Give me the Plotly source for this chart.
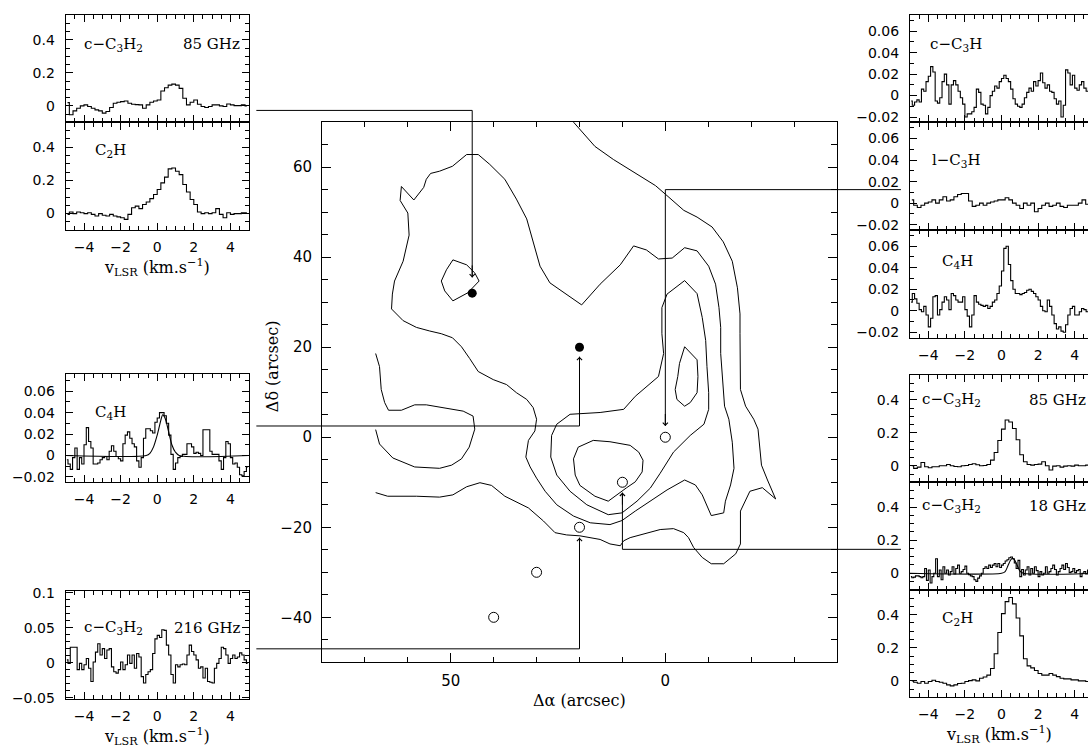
import numpy as np
import plotly.graph_objects as go

W, H = 1088, 751

# ---------------- map data (offsets in arcsec) ----------------
filled_ra = [45, 20]
filled_dec = [32, 20]
open_ra = [0, 10, 20, 30, 40]
open_dec = [0, -10, -20, -30, -40]

outer_ra = [21.4, 16.4, 12.1, 6.6, 2.3, 0.0, -4.3, -7.4, -10.9, -13.5, -15.6, -16.8, -17.4, -17.4, -17.5,
            -17.5, -18.7, -20.6, -21.6, -22.0, -22.4, -23.8, -25.7, -22.6, -19.7, -17.5, -17.4, -17.5, -16.4,
            -13.6, -10.7, -8.6, -6.6, -5.4, -4.3, -1.9, 1.2, 5.1, 8.2, 9.7, 10.5, 12.9, 15.2, 19.9, 23.0, 25.7,
            28.4, 31.9, 37.4, 40.5, 43.2, 46.3, 49.5, 52.6, 58.0, 64.7, 67.5]
outer_dec = [70.0, 64.6, 61.7, 58.4, 55.9, 54.0, 50.4, 48.9, 46.7, 43.4, 39.1, 33.2, 27.4, 23.0, 15.7,
             10.6, 6.9, 4.0, 1.8, -2.6, -6.2, -9.5, -13.7, -11.2, -12.0, -16.4, -20.8, -23.7, -25.9,
             -28.1, -28.1, -26.7, -24.5, -22.3, -21.2, -20.3, -20.5, -21.6, -22.3, -23.0, -24.1, -23.7, -22.7,
             -21.9, -21.7, -21.2, -18.6, -15.7, -13.1, -10.7, -10.1, -11.0, -12.8, -13.3, -13.1, -13.1, -12.3]

vshape_ra = [61.5, 58.6, 56.3, 55.7, 54.7, 52.6, 49.6, 46.3, 43.6, 40.9, 37.4, 34.7, 32.3, 30.8, 29.2,
             26.9, 23.0, 19.5, 15.2, 10.5, 7.4, 4.4, 1.6, -1.6, -4.5, -7.4, -10.1, -11.7, -12.5, -12.9,
             -12.9, -13.3, -13.8, -14.8, -15.6, -16.0, -15.2, -14.0, -13.6, -10.7, -8.6, -7.0, -4.5, -0.4,
             3.1, 7.0, 10.1, 12.9, 17.5, 21.4, 25.3, 28.0, 30.0, 31.5, 32.5, 31.9, 30.4, 30.0, 30.8, 32.3,
             34.7, 37.0, 40.1, 43.6, 45.6, 47.5, 49.6, 52.2, 54.9, 58.0, 61.1, 63.8, 63.6, 63.1, 61.1, 59.7,
             60.0, 61.8, 61.5]
vshape_dec = [55.7, 52.7, 55.5, 57.3, 58.6, 59.1, 60.2, 62.8, 62.8, 60.6, 57.3, 52.9, 48.5, 43.4, 38.0,
              34.3, 31.8, 29.4, 34.0, 38.3, 42.5, 41.6, 39.6, 39.8, 42.1, 41.4, 38.0, 34.0, 28.8, 24.4,
              18.6, 12.8, 6.9, 4.0, -1.1, -6.9, -10.6, -14.2, -16.8, -17.4, -12.8, -10.6, -9.5, -11.7,
              -13.9, -16.4, -18.5, -19.4, -19.0, -17.5, -15.0, -12.0, -9.1, -6.6, -4.4, -0.7, 1.4, 4.0, 6.6,
              8.4, 9.9, 11.7, 12.8, 14.6, 17.5, 20.1, 22.1, 23.0, 23.6, 24.4, 25.9, 28.5, 31.8, 34.7, 39.1,
              44.9, 49.8, 52.6, 55.7]

third_ra = [-4.5, -7.4, -8.6, -9.4, -9.7, -10.1, -10.1, -9.0, -5.8, -1.9, 1.2, 3.5, 6.6, 10.1, 13.3, 18.3,
            22.2, 25.3, 26.7, 26.5, 25.3, 22.2, 15.2, 9.7, 7.0, 5.1, 1.6, 0.4, 0.8, 0.8, -0.4, -4.5]
third_dec = [34.8, 31.9, 26.6, 21.5, 15.7, 9.9, 6.2, 2.9, 0.4, -3.3, -8.0, -11.3, -14.2, -16.8, -17.2, -15.0,
             -12.0, -8.4, -4.4, 0.4, 2.9, 5.1, 5.5, 6.2, 9.1, 10.6, 13.5, 18.6, 23.0, 28.8, 31.8, 34.8]

peakN_ra = [-4.5, -7.4, -7.6, -7.4, -5.8, -4.5, -2.7, -2.3, -2.9, -3.3, -4.5]
peakN_dec = [20.1, 17.2, 13.5, 9.9, 7.7, 6.9, 8.4, 10.6, 13.5, 16.4, 20.1]

peakS_ra = [21.4, 20.3, 16.8, 12.9, 8.2, 6.2, 5.2, 5.4, 7.0, 9.0, 13.3, 16.4, 19.9, 21.0, 21.4]
peakS_dec = [-4.8, -2.2, -0.7, -1.0, -1.8, -3.3, -5.1, -7.7, -9.9, -11.2, -14.2, -13.1, -10.7, -8.4, -4.8]

blobNE_ra = [49.5, 46.3, 44.4, 43.4, 46.0, 49.5, 51.4, 52.2, 51.0, 49.5]
blobNE_dec = [39.4, 38.3, 36.5, 34.7, 32.1, 30.3, 32.5, 34.7, 37.2, 39.4]

west_ra = [67.5, 66.6, 66.2, 65.4, 64.5, 61.5, 58.4, 55.7, 47.1, 44.8, 44.4, 45.7, 47.5, 49.8, 52.6, 58.4,
           63.5, 66.6, 67.5]
west_dec = [18.6, 15.7, 10.6, 7.7, 6.0, 6.0, 7.2, 7.2, 5.8, 4.7, 1.8, -2.2, -4.8, -6.2, -6.9, -6.6, -4.6,
            -1.5, 1.7]

# connectors: panel side offset, level of horizontal run, column offset, arrow tip
conn_start_ra = [95.3, 95.3, 95.3, -54.9, -54.9]
conn_level_dec = [72.6, 2.5, -47.0, 55.0, -24.9]
conn_ra = [45, 20, 20, 0, 10]
conn_head_dec = [35.5, 17.9, -22.3, 2.5, -12.3]

# ---------------- spectra (T vs v_LSR, km/s) ----------------
L_c3h2_85 = [0.02, -0.054, -0.03, -0.014, 0.0, 0.006, -0.004, -0.014, -0.024, -0.03, -0.044, -0.034, -0.01,
             0.016, 0.022, 0.026, 0.03, 0.016, 0.01, 0.008, 0.006, -0.014, 0.006, 0.022, 0.03, 0.036, 0.09,
             0.11, 0.126, 0.132, 0.126, 0.106, 0.046, 0.006, 0.022, 0.036, 0.01, -0.004, -0.01, -0.004, 0.006,
             0.006, 0.0, -0.004, 0.012, 0.006, 0.002, 0.002, 0.006, 0.0]
L_c2h = [-0.005, 0.01, 0.0, 0.01, 0.005, 0.0, 0.005, -0.005, -0.015, 0.0, -0.01, -0.015, -0.005, -0.015,
         -0.02, -0.025, -0.035, -0.005, 0.035, 0.045, 0.03, 0.055, 0.07, 0.09, 0.115, 0.145, 0.185, 0.22,
         0.27, 0.275, 0.255, 0.235, 0.175, 0.13, 0.085, 0.055, 0.01, 0.0, 0.005, 0.0, 0.005, 0.03, -0.005,
         -0.025, 0.005, -0.005, 0.0, 0.0, 0.005, 0.005]
L_c4h = [-0.004, -0.008, -0.013, -0.002, 0.007, -0.013, -0.002, -0.008, 0.010, 0.026, 0.013, 0.007, -0.008,
         -0.008, -0.007, -0.004, -0.002, -0.001, -0.004, 0.004, 0.009, 0.004, -0.001, -0.003, -0.005, 0.011,
         0.019, 0.022, 0.016, 0.011, 0.008, -0.005, -0.011, -0.002, 0.016, 0.025, 0.025, 0.023, 0.021, 0.031,
         0.035, 0.040, 0.040, 0.037, 0.030, 0.019, 0.001, -0.013, -0.007, -0.002, -0.001, 0.001, 0.001, 0.011,
         0.011, 0.008, 0.002, 0.003, 0.002, 0.000, 0.024, 0.024, 0.024, 0.004, 0.001, 0.001, 0.001, -0.005,
         -0.013, -0.002, 0.013, 0.011, -0.002, -0.008, -0.007, -0.011, -0.018, -0.019, -0.015, -0.011]
L_c4h_fit_v = [-5.0, -0.6, -0.4, -0.2, 0.0, 0.1, 0.2, 0.3, 0.4, 0.5, 0.6, 0.8, 1.0, 1.2, 5.0]
L_c4h_fit_t = [0.0, 0.0, 0.002, 0.008, 0.019, 0.026, 0.033, 0.038, 0.036, 0.031, 0.024, 0.010, 0.003, 0.0, 0.0]
L_c3h2_216 = [0.004, -0.001, 0.022, 0.022, 0.022, -0.010, -0.001, -0.010, -0.003, 0.006, -0.008, -0.027,
              0.001, 0.015, 0.027, 0.011, 0.020, 0.006, 0.018, 0.020, -0.006, -0.013, -0.015, -0.010, 0.001,
              -0.010, -0.003, 0.011, -0.001, 0.011, -0.008, 0.013, 0.008, -0.020, -0.029, -0.017, -0.013,
              -0.010, 0.013, 0.034, 0.039, 0.036, 0.047, 0.046, 0.025, 0.011, -0.017, -0.029, -0.003, -0.006,
              -0.003, -0.002, -0.003, 0.011, 0.025, 0.016, 0.011, 0.004, -0.008, -0.006, -0.022, -0.008,
              -0.027, -0.028, -0.029, -0.008, -0.001, 0.006, 0.022, 0.020, 0.011, -0.001, 0.006, 0.011, 0.006,
              0.008, 0.014, 0.011, 0.004, -0.001]

R_c3h = [-0.005, -0.009, -0.006, -0.004, -0.006, 0.006, 0.004, 0.013, 0.018, 0.027, 0.022, -0.005, -0.007,
         -0.002, 0.013, 0.020, 0.010, -0.008, 0.010, 0.014, 0.010, 0.004, -0.002, -0.008, -0.020, -0.017,
         -0.017, -0.015, -0.011, 0.006, 0.003, -0.008, -0.009, -0.017, -0.011, 0.000, 0.004, 0.009, 0.007,
         0.013, 0.016, 0.019, 0.016, 0.013, 0.006, -0.003, -0.008, -0.010, -0.011, -0.008, -0.002, 0.003,
         0.007, 0.004, 0.013, 0.009, 0.014, 0.021, 0.012, 0.007, 0.010, 0.004, 0.003, -0.003, -0.008, -0.005,
         -0.020, -0.009, 0.024, 0.021, 0.010, 0.019, 0.007, 0.005, 0.010, 0.013, 0.007, 0.004, 0.007, 0.006]
R_lc3h = [0.003, -0.002, -0.004, -0.002, 0.0, 0.001, 0.003, 0.0, 0.003, 0.006, 0.002, 0.003, 0.006, 0.008,
          0.009, 0.009, 0.002, -0.003, -0.002, 0.0, -0.002, 0.0, 0.001, 0.002, 0.003, 0.003, 0.005, 0.003,
          0.0, -0.002, -0.005, 0.0, -0.002, 0.0, -0.008, -0.005, -0.002, 0.0, -0.003, -0.002, 0.0, -0.003,
          -0.004, -0.002, -0.002, -0.002, 0.0, 0.003, -0.001, -0.004]
R_c4h = [0.008, 0.016, 0.011, 0.007, 0.001, -0.001, 0.004, -0.004, -0.015, -0.007, 0.013, 0.014, -0.004,
         0.001, 0.008, 0.013, 0.010, 0.001, 0.016, 0.014, 0.010, 0.008, 0.008, 0.013, 0.001, -0.005, -0.015,
         -0.004, 0.014, 0.008, 0.006, 0.005, 0.004, 0.005, 0.002, 0.004, 0.008, 0.010, 0.016, 0.023, 0.037,
         0.058, 0.060, 0.043, 0.028, 0.020, 0.016, 0.016, 0.015, 0.016, 0.017, 0.019, 0.020, 0.018, 0.016,
         0.013, 0.010, 0.004, 0.000, -0.001, 0.010, 0.004, -0.004, -0.012, -0.017, -0.015, -0.019, -0.020,
         -0.013, -0.004, 0.002, 0.004, -0.004, -0.004, -0.001, 0.002, 0.001, -0.001, 0.001, 0.0]
R_c3h2_85 = [0.0, -0.016, -0.008, 0.02, -0.006, -0.012, -0.006, -0.006, 0.0, 0.0, 0.008, 0.0, -0.004, -0.006,
             0.0, 0.002, 0.008, 0.012, 0.006, 0.0, 0.002, 0.008, 0.034, 0.08, 0.153, 0.222, 0.277, 0.265,
             0.226, 0.158, 0.067, 0.024, 0.008, 0.004, 0.008, 0.01, 0.024, 0.0, -0.026, -0.002, 0.0, -0.008,
             -0.002, 0.0, -0.002, 0.004, 0.0, 0.0, 0.004, 0.002]
R_c3h2_18 = [-0.02, -0.027, -0.023, -0.016, -0.016, -0.02, -0.027, -0.02, 0.029, -0.043, 0.02, -0.059, -0.02,
             0.0, 0.088, -0.02, 0.02, -0.039, 0.039, 0.0, 0.02, -0.01, 0.01, 0.039, -0.004, 0.029, 0.049, 0.0,
             0.01, 0.023, 0.043, 0.0, -0.008, -0.016, -0.02, -0.039, -0.049, -0.029, -0.016, 0.0, 0.029,
             0.039, 0.029, 0.049, 0.035, 0.049, 0.059, 0.039, 0.059, 0.035, 0.049, 0.059, 0.074, 0.082,
             0.094, 0.098, 0.088, 0.062, 0.029, 0.078, -0.02, 0.023, -0.01, 0.02, 0.039, -0.01, 0.029, 0.0,
             0.039, 0.016, -0.02, 0.01, -0.01, 0.0, 0.039, 0.0, 0.01, 0.029, 0.049, 0.023, -0.01, 0.01, 0.029,
             0.049, 0.023, 0.059, 0.035, 0.004, 0.01, 0.029, 0.004, 0.016, 0.023, -0.02, 0.0, 0.01, -0.004,
             0.02, 0.01, 0.004]
R_c3h2_18_fit_v = [-5.0, 0.0, 0.2, 0.35, 0.5, 0.6, 0.7, 0.85, 1.0, 1.2, 5.0]
R_c3h2_18_fit_t = [0.0, 0.0, 0.01, 0.045, 0.08, 0.09, 0.082, 0.05, 0.015, 0.0, 0.0]
R_c2h = [0.0, -0.008, -0.014, -0.004, -0.014, -0.004, 0.004, -0.004, -0.008, -0.014, -0.024, -0.03, -0.024,
         -0.016, -0.014, -0.004, 0.002, 0.006, 0.0, 0.016, 0.024, 0.035, 0.075, 0.164, 0.292, 0.406, 0.479,
         0.504, 0.465, 0.38, 0.272, 0.134, 0.091, 0.079, 0.063, 0.045, 0.035, 0.035, 0.045, 0.035, 0.026,
         0.016, 0.012, 0.012, 0.006, 0.006, 0.0, 0.0, -0.004, 0.0]

# ---------------- layout helpers ----------------
def xdom(p0, p1):
    return [p0 / W, min(p1 / W, 1.0)]


def ydom(top, bot):
    return [1 - bot / H, 1 - top / H]


BLACK = 'black'
tickfont = dict(family='DejaVu Sans', size=14, color=BLACK)
labfont = dict(family='DejaVu Serif', size=15, color=BLACK)

fig = go.Figure()
layout = dict(width=W, height=H, margin=dict(l=0, r=0, t=0, b=0), paper_bgcolor='white',
              plot_bgcolor='rgba(0,0,0,0)', showlegend=False, annotations=[])

# main map axes
MX = xdom(322, 837)
MY = ydom(118, 667)
layout['xaxis'] = dict(domain=MX, range=[80, -40], anchor='y', showline=True, linecolor=BLACK, linewidth=1,
                       mirror='ticks', ticks='inside', ticklen=9, tickcolor=BLACK, dtick=50, tick0=0,
                       showgrid=False, zeroline=False, tickfont=dict(family='DejaVu Sans', size=15, color=BLACK),
                       ticklabelstandoff=5,
                       minor=dict(dtick=10, tick0=0, ticks='inside', ticklen=5, tickcolor=BLACK, showgrid=False))
layout['yaxis'] = dict(domain=MY, range=[-50, 70], anchor='x', showline=True, linecolor=BLACK, linewidth=1,
                       mirror='ticks', ticks='inside', ticklen=9, tickcolor=BLACK, dtick=20, tick0=0,
                       showgrid=False, zeroline=False, tickfont=dict(family='DejaVu Sans', size=15, color=BLACK),
                       ticklabelstandoff=6,
                       minor=dict(dtick=5, tick0=0, ticks='inside', ticklen=6, tickcolor=BLACK, showgrid=False))

for cra, cdec in [(outer_ra, outer_dec), (vshape_ra, vshape_dec), (third_ra, third_dec),
                  (peakN_ra, peakN_dec), (peakS_ra, peakS_dec), (blobNE_ra, blobNE_dec),
                  (west_ra, west_dec)]:
    fig.add_trace(go.Scatter(x=cra, y=cdec, mode='lines', line=dict(color=BLACK, width=1),
                             xaxis='x', yaxis='y', hoverinfo='skip'))
fig.add_trace(go.Scatter(x=filled_ra, y=filled_dec, mode='markers', xaxis='x', yaxis='y',
                         marker=dict(symbol='circle', size=9, color=BLACK), hoverinfo='skip'))
fig.add_trace(go.Scatter(x=open_ra, y=open_dec, mode='markers', xaxis='x', yaxis='y',
                         marker=dict(symbol='circle-open', size=10, color=BLACK, line=dict(width=1)),
                         hoverinfo='skip'))

# overlay axes spanning the whole page with the map's own scale (for connectors)
span_x = (-40 - 80) / (MX[1] - MX[0])
span_y = (70 - (-50)) / (MY[1] - MY[0])
ov_xr = [80 + (0 - MX[0]) * span_x, 80 + (1 - MX[0]) * span_x]
ov_yr = [-50 + (0 - MY[0]) * span_y, -50 + (1 - MY[0]) * span_y]
layout['xaxis12'] = dict(domain=[0, 1], range=ov_xr, anchor='y12', visible=False, showgrid=False,
                         zeroline=False)
layout['yaxis12'] = dict(domain=[0, 1], range=ov_yr, anchor='x12', visible=False, showgrid=False,
                         zeroline=False)
cx, cy = [], []
for s, lv, c, hd in zip(conn_start_ra, conn_level_dec, conn_ra, conn_head_dec):
    cx += [s, c, c, None]
    cy += [lv, lv, hd, None]
    back = 3 if lv > hd else -3
    layout['annotations'].append(dict(x=c, y=hd, ax=c, ay=hd + back, xref='x12', yref='y12',
                                      axref='x12', ayref='y12', text='', showarrow=True, arrowhead=4,
                                      arrowsize=1.0, arrowwidth=1, arrowcolor=BLACK, standoff=0))
fig.add_trace(go.Scatter(x=cx, y=cy, mode='lines', line=dict(color=BLACK, width=1), xaxis='x12',
                         yaxis='y12', hoverinfo='skip', connectgaps=False))

# ---------------- spectra panels ----------------
LX = xdom(65.7, 248.7)
RX = xdom(910, 1093.3)
panel_px = 248.7 - 65.7
r_end = -5 + 10 * (W - 910) / panel_px

panels = [
    # idx, xdom, ydom, xend, yrange, dtick, minor, show x labels, data, v0, dv
    (2, LX, ydom(9.3, 118.3), 5, [-0.1, 0.55], 0.2, 0.05, False, L_c3h2_85, -4.9, 0.2),
    (3, LX, ydom(118.3, 227.8), 5, [-0.1, 0.55], 0.2, 0.05, True, L_c2h, -4.9, 0.2),
    (4, LX, ydom(374, 484), 5, [-0.025, 0.076], 0.02, 0.01, True, L_c4h, -4.9375, 0.125),
    (5, LX, ydom(594, 704.3), 5, [-0.052, 0.103], 0.05, 0.01, True, L_c3h2_216, -4.9375, 0.125),
    (6, RX, ydom(9.3, 118.3), r_end, [-0.025, 0.075], 0.02, 0.01, False, R_c3h, -4.9375, 0.125),
    (7, RX, ydom(118.3, 227.7), r_end, [-0.025, 0.075], 0.02, 0.01, False, R_lc3h, -4.9, 0.2),
    (8, RX, ydom(227.7, 337), r_end, [-0.025, 0.075], 0.02, 0.01, True, R_c4h, -4.9375, 0.125),
    (9, RX, ydom(375, 484), r_end, [-0.1, 0.55], 0.2, 0.05, False, R_c3h2_85, -4.9, 0.2),
    (10, RX, ydom(484, 593.3), r_end, [-0.1, 0.55], 0.2, 0.05, False, R_c3h2_18, -4.95, 0.1),
    (11, RX, ydom(593.3, 702.7), r_end, [-0.1, 0.55], 0.2, 0.05, True, R_c2h, -4.9, 0.2),
]

for idx, xd, yd, xend, yr, dt, mn, showx, vals, v0, dv in panels:
    xa, ya = f'x{idx}', f'y{idx}'
    cut = xend < 5  # right-hand panels run off the page edge
    layout[f'xaxis{idx}'] = dict(domain=xd, range=[-5, xend], anchor=ya, showline=True, linecolor=BLACK,
                                 linewidth=1.2, mirror='ticks', ticks='inside', ticklen=7, tickwidth=1.2,
                                 tickcolor=BLACK, dtick=2, tick0=0, showgrid=False, zeroline=False,
                                 showticklabels=showx, tickfont=tickfont, ticklabelstandoff=4,
                                 minor=dict(dtick=0.5, tick0=0, ticks='inside', ticklen=4, tickcolor=BLACK,
                                            showgrid=False))
    layout[f'yaxis{idx}'] = dict(domain=yd, range=yr, anchor=xa, showline=True, linecolor=BLACK,
                                 linewidth=1.2, mirror=(False if cut else 'ticks'), ticks='inside', ticklen=7,
                                 tickwidth=1.2, tickcolor=BLACK, dtick=dt, tick0=0, showgrid=False,
                                 zeroline=False, tickfont=tickfont, ticklabelstandoff=7,
                                 minor=dict(dtick=mn, tick0=0, ticks='inside', ticklen=4, tickcolor=BLACK,
                                            showgrid=False))
    v = v0 + dv * np.arange(len(vals))
    fig.add_trace(go.Scatter(x=v, y=vals, mode='lines', line=dict(color=BLACK, width=1.1, shape='hvh'),
                             xaxis=xa, yaxis=ya, hoverinfo='skip'))

# fitted profiles
fig.add_trace(go.Scatter(x=L_c4h_fit_v, y=L_c4h_fit_t, mode='lines',
                         line=dict(color=BLACK, width=1.1, shape='spline', smoothing=0.8),
                         xaxis='x4', yaxis='y4', hoverinfo='skip'))
fig.add_trace(go.Scatter(x=R_c3h2_18_fit_v, y=R_c3h2_18_fit_t, mode='lines',
                         line=dict(color=BLACK, width=1.1, shape='spline', smoothing=0.8),
                         xaxis='x10', yaxis='y10', hoverinfo='skip'))

# panel labels: (panel, text, v position, anchor, y fraction)
labels = [
    (2, 'c\u2212C<sub>3</sub>H<sub>2</sub>', -4.11, 'left', 0.727),
    (2, '85 GHz', 4.62, 'right', 0.727),
    (3, 'C<sub>2</sub>H', -3.51, 'left', 0.741),
    (4, 'C<sub>4</sub>H', -3.51, 'left', 0.645),
    (5, 'c\u2212C<sub>3</sub>H<sub>2</sub>', -4.11, 'left', 0.655),
    (5, '216 GHz', 4.62, 'right', 0.655),
    (6, 'c\u2212C<sub>3</sub>H', -4.02, 'left', 0.727),
    (7, 'l\u2212C<sub>3</sub>H', -3.9, 'left', 0.643),
    (8, 'C<sub>4</sub>H', -3.36, 'left', 0.707),
    (9, 'c\u2212C<sub>3</sub>H<sub>2</sub>', -4.45, 'left', 0.771),
    (9, '85 GHz', 1.38, 'left', 0.771),
    (10, 'c\u2212C<sub>3</sub>H<sub>2</sub>', -4.45, 'left', 0.78),
    (10, '18 GHz', 1.38, 'left', 0.78),
    (11, 'C<sub>2</sub>H', -3.36, 'left', 0.738),
]
for idx, txt, xv, anc, yf in labels:
    layout['annotations'].append(dict(x=xv, y=yf, xref=f'x{idx}', yref=f'y{idx} domain', text=txt,
                                      showarrow=False, xanchor=anc, yanchor='middle', font=labfont))

vtitle = 'v<sub>LSR</sub> (km.s<sup>\u22121</sup>)'
for idx in (3, 5, 11):
    layout['annotations'].append(dict(x=0.5, y=0, xref=f'x{idx} domain', yref=f'y{idx} domain', text=vtitle,
                                      showarrow=False, xanchor='center', yanchor='middle', yshift=-37,
                                      font=dict(family='DejaVu Serif', size=16, color=BLACK)))

layout['annotations'].append(dict(x=272 / W, y=1 - 366 / H, xref='paper', yref='paper', text='\u0394\u03b4 (arcsec)',
                                  showarrow=False, textangle=-90, xanchor='center', yanchor='middle',
                                  font=dict(family='DejaVu Serif', size=16, color=BLACK)))
layout['annotations'].append(dict(x=0.5, y=0, xref='x domain', yref='y domain', text='\u0394\u03b1 (arcsec)',
                                  showarrow=False, xanchor='center', yanchor='middle', yshift=-38,
                                  font=dict(family='DejaVu Serif', size=16, color=BLACK)))

fig.update_layout(**layout)
fig.update_traces(showlegend=False)
fig.write_html('out.html')
